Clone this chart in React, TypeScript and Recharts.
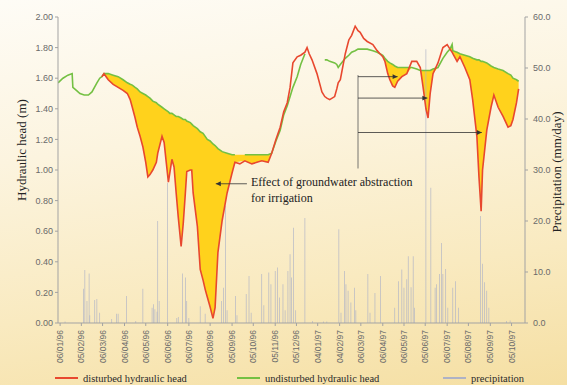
import {
  Area,
  Bar,
  ComposedChart,
  Line,
  ReferenceDot,
  ReferenceLine,
  XAxis,
  YAxis,
} from "recharts";

// day 0 = 1 Jan 1996
const HEAD_DAYS = [
  2, 9, 16, 22, 23, 28, 33, 39, 45, 50, 57, 61, 64, 67, 70, 73, 80, 87, 94, 100,
  104, 107, 111, 114, 118, 122, 126, 129, 132, 136, 141, 143, 149, 152, 155, 158,
  160, 163, 166, 169, 172, 176, 179, 182, 184, 189, 191, 193, 199, 203, 207, 210,
  213, 217, 221, 224, 228, 234, 241, 248, 252, 259, 266, 276, 283, 290, 299, 304,
  310, 316, 321, 326, 330, 334, 340, 345, 351, 354, 357, 361, 368, 375, 379, 382,
  386, 393, 396, 398, 401, 408, 413, 417, 422, 426, 429, 434, 439, 447, 453, 457,
  461, 464, 468, 471, 475, 478, 482, 488, 495, 502, 509, 514, 518, 522, 525, 528,
  532, 539, 546, 552, 556, 559, 560, 566, 570, 577, 584, 588, 594, 597, 600, 602,
  608, 614, 618, 624, 631, 638, 642, 645, 650, 653,
];

const UNDISTURBED: (number | null)[] = [
  1.57, 1.6, 1.62, 1.63, 1.54, 1.52, 1.5, 1.49, 1.49, 1.51, 1.57, 1.6, 1.61, 1.63,
  1.63, 1.63, 1.62, 1.61, 1.59, 1.57, 1.56, 1.555, 1.54, 1.53, 1.51, 1.5, 1.49,
  1.48, 1.47, 1.45, 1.44, 1.43, 1.41, 1.4, 1.39, 1.38, 1.37, 1.37, 1.36, 1.35,
  1.35, 1.34, 1.33, 1.33, 1.32, 1.31, 1.3, 1.29, 1.27, 1.25, 1.24, 1.22, 1.2,
  1.19, 1.17, 1.16, 1.14, 1.12, 1.11, 1.1, 1.1, null, 1.1, 1.1, 1.1, 1.1, 1.1,
  1.11, 1.19, 1.26, 1.36, 1.42, 1.48, 1.54, 1.61, 1.69, 1.76, null, null, null,
  null, null, 1.72, 1.72, 1.71, 1.7, 1.69, 1.67, 1.69, 1.73, 1.75, 1.77, 1.78,
  1.79, 1.79, 1.79, 1.79, 1.78, 1.77, 1.76, 1.75, 1.73, 1.71, 1.7, 1.69, 1.68,
  1.67, 1.67, 1.67, 1.67, 1.66, 1.65, 1.65, 1.65, 1.65, 1.65, 1.66, 1.67, 1.73,
  1.77, 1.79, 1.82, 1.78, 1.77, 1.76, 1.75, 1.74, 1.73, 1.72, 1.72, 1.71, 1.71,
  1.7, 1.68, 1.67, 1.66, 1.65, 1.63, 1.62, 1.6, 1.59, 1.58,
];

const DISTURBED: (number | null)[] = [
  null, null, null, null, null, null, null, null, null, null, null, null, 1.61,
  1.63, 1.61, 1.59, 1.56, 1.54, 1.52, 1.5, 1.46, 1.41, 1.34, 1.28, 1.22, 1.15,
  1.05, 0.955, 0.97, 1.0, 1.05, 1.11, 1.22, 1.18, 1.05, 0.92, 0.98, 1.07, 1.02,
  0.85, 0.69, 0.5, 0.65, 0.85, 0.99, 1.0, 1.0, 0.85, 0.63, 0.35, 0.28, 0.22, 0.17,
  0.105, 0.03, 0.1, 0.46, 0.67, 0.85, 0.98, 1.05, 1.04, 1.06, 1.04, 1.05, 1.06,
  1.05, 1.11, 1.2, 1.28, 1.38, 1.44, 1.54, 1.7, 1.74, 1.75, 1.77, 1.8, 1.76, 1.72,
  1.63, 1.51, 1.48, 1.47, 1.46, 1.48, 1.53, 1.57, 1.59, 1.76, 1.85, 1.88, 1.94,
  1.91, 1.9, 1.86, 1.84, 1.82, 1.78, 1.76, 1.74, 1.71, 1.63, 1.59, 1.55, 1.54,
  1.58, 1.61, 1.63, 1.71, 1.71, 1.67, 1.54, 1.4, 1.34, 1.5, 1.63, 1.7, 1.8, 1.82,
  1.79, 1.77, 1.76, 1.71, 1.74, 1.67, 1.59, 1.46, 1.22, 0.95, 0.73, 1.0, 1.26,
  1.41, 1.49, 1.41, 1.35, 1.28, 1.29, 1.33, 1.44, 1.53,
];

const IRRIGATION_SEASONS: [number, number][] = [
  [64, 304],
  [461, 653],
];

const RAIN_DAYS = [
  12, 38, 40, 43, 46, 47, 54, 57, 61, 78, 85, 87, 99, 112, 122, 135, 137, 139, 142,
  143, 145, 157, 170, 172, 178, 182, 184, 187, 203, 210, 233, 236, 239, 241, 253,
  255, 268, 272, 275, 290, 293, 300, 303, 309, 312, 315, 320, 323, 327, 330, 332,
  335, 338, 351, 362, 377, 382, 399, 402, 407, 409, 412, 416, 421, 423, 440, 443,
  450, 458, 478, 483, 488, 491, 495, 497, 501, 504, 506, 522, 529, 535, 537, 541,
  544, 546, 550, 553, 560, 564, 568, 599, 602, 605, 608, 611, 636, 641,
];

const RAIN_MM = [
  0.3, 6.7, 10.4, 4.3, 9.7, 1.5, 4.5, 4.7, 2.0, 0.8, 1.8, 1.8, 5.3, 0.4, 6.7, 3.0,
  3.7, 2.7, 2.2, 20.0, 4.3, 27.5, 1.0, 1.2, 9.7, 8.9, 4.3, 1.0, 3.3, 1.8, 4.3, 6.9,
  23.0, 2.5, 5.3, 1.5, 5.7, 9.2, 2.0, 9.6, 3.5, 9.9, 7.6, 10.2, 10.9, 5.0, 7.6,
  2.5, 10.2, 13.5, 8.9, 18.7, 2.5, 20.6, 0.4, 0.3, 0.3, 18.4, 2.0, 10.2, 7.6, 6.3,
  4.0, 6.9, 2.5, 9.6, 2.0, 5.9, 9.2, 3.0, 8.2, 10.5, 6.9, 8.6, 13.1, 7.0, 13.1, 3.0,
  53.7, 26.5, 6.9, 7.6, 9.6, 15.7, 9.6, 10.6, 3.0, 6.9, 8.2, 3.0, 21.0, 11.6, 8.0,
  6.3, 3.0, 0.4, 0.5,
];

const TICK_DAYS = [
  5, 35, 65, 96, 126, 157, 187, 217, 248, 278, 309, 339, 369, 400, 430, 461, 491,
  521, 552, 582, 613, 643,
];

const TICK_LABELS = [
  "06/01/96", "05/02/96", "06/03/96", "06/04/96", "06/05/96", "06/06/96",
  "06/07/96", "05/08/96", "05/09/96", "05/10/96", "05/11/96", "05/12/96",
  "04/01/97", "04/02/97", "06/03/97", "06/04/97", "06/05/97", "05/06/97",
  "06/07/97", "05/08/97", "05/09/97", "05/10/97",
];

const HEAD_TICKS = [0, 0.2, 0.4, 0.6, 0.8, 1.0, 1.2, 1.4, 1.6, 1.8, 2.0];
const RAIN_TICKS = [0, 10, 20, 30, 40, 50, 60];

// annotation anchors (day, head)
const SPLIT_DAY = 426;
const SPLIT_TOP = 1.62;
const SPLIT_BOTTOM = 1.01;
const SPLIT_LEVELS = [1.61, 1.47, 1.245];
const SPLIT_TIPS = [482, 524, 601];
const LEFT_ARROW = { from: 269, to: 225, head: 0.91 };

const RED = "#e8482f";
const GREEN = "#74c043";
const YELLOW = "#ffd21c";
const GREY_BAR = "#aeb2c6";
const AXIS = "#a3a3a3";
const TICK_TEXT = "#6a6a6a";

const rainData = RAIN_DAYS.map((day, i) => ({ day, rain: RAIN_MM[i] }));
const undisturbedData = HEAD_DAYS.map((day, i) => ({ day, head: UNDISTURBED[i] }));
const disturbedData = HEAD_DAYS.map((day, i) => ({ day, head: DISTURBED[i] })).filter(
  (d) => d.head !== null
);

function seasonFill([start, end]: [number, number]) {
  return HEAD_DAYS.map((day, i) => ({ day, g: UNDISTURBED[i], r: DISTURBED[i] }))
    .filter((d) => d.g !== null && d.r !== null && d.day >= start && d.day <= end)
    .map((d) => ({
      day: d.day,
      range: [Math.min(d.r as number, d.g as number), d.g as number],
    }));
}

function DateTick(props: any) {
  const { x, y, payload } = props;
  const idx = TICK_DAYS.indexOf(payload.value);
  return (
    <text
      transform={`translate(${x + 3},${y + 2}) rotate(-90)`}
      textAnchor="end"
      fontSize={8.5}
      fontFamily="Liberation Sans, Arial, sans-serif"
      fill={TICK_TEXT}
    >
      {TICK_LABELS[idx] ?? ""}
    </text>
  );
}

const arrowRight = (p: any) => (
  <path d={`M${p.cx},${p.cy} l-5,-2.4 v4.8 z`} fill="#333" />
);
const arrowLeft = (p: any) => (
  <path d={`M${p.cx},${p.cy} l5,-2.4 v4.8 z`} fill="#333" />
);

const legendItems = [
  { label: "disturbed hydraulic head", color: RED, left: 55 },
  { label: "undisturbed hydraulic head", color: GREEN, left: 237 },
  { label: "precipitation", color: GREY_BAR, left: 443 },
];

export default function App() {
  const tickFont = { fontSize: 9, fill: TICK_TEXT, fontFamily: "Liberation Sans, Arial, sans-serif" };

  return (
    <div
      style={{
        position: "absolute",
        left: 0,
        top: 0,
        width: 567,
        height: 385,
        overflow: "hidden",
        background:
          "linear-gradient(172deg, #fefcf6 0%, #fcf4df 35%, #f9eac0 70%, #f5dfa3 100%)",
        fontFamily: "Liberation Serif, Times New Roman, serif",
      }}
    >
      <ComposedChart
        width={567}
        height={385}
        data={rainData}
        margin={{ top: 17, right: 0, bottom: 0, left: 0 }}
      >
        <XAxis
          dataKey="day"
          type="number"
          domain={[2, 662]}
          ticks={TICK_DAYS}
          interval={0}
          height={62}
          tick={<DateTick />}
          tickSize={3}
          tickMargin={2}
          stroke={AXIS}
          allowDataOverflow
        />
        <YAxis
          yAxisId="head"
          domain={[0, 2]}
          ticks={HEAD_TICKS}
          width={58}
          tickSize={3}
          tickMargin={2}
          stroke={AXIS}
          tick={tickFont}
          tickFormatter={(v) => Number(v).toFixed(2)}
        />
        <YAxis
          yAxisId="rain"
          orientation="right"
          domain={[0, 60]}
          ticks={RAIN_TICKS}
          width={42}
          tickSize={3}
          tickMargin={5}
          stroke={AXIS}
          tick={tickFont}
          tickFormatter={(v) => Number(v).toFixed(1)}
        />

        {IRRIGATION_SEASONS.map((season, i) => (
          <Area
            key={i}
            yAxisId="head"
            data={seasonFill(season)}
            dataKey="range"
            type="linear"
            stroke="none"
            fill={YELLOW}
            fillOpacity={1}
            isAnimationActive={false}
          />
        ))}

        <Bar
          yAxisId="rain"
          dataKey="rain"
          fill={GREY_BAR}
          barSize={1.5}
          isAnimationActive={false}
        />

        <Line
          yAxisId="head"
          data={undisturbedData}
          dataKey="head"
          type="linear"
          stroke={GREEN}
          strokeWidth={1.6}
          dot={false}
          connectNulls={false}
          isAnimationActive={false}
        />
        <Line
          yAxisId="head"
          data={disturbedData}
          dataKey="head"
          type="linear"
          stroke={RED}
          strokeWidth={1.6}
          dot={false}
          isAnimationActive={false}
        />

        <ReferenceLine
          yAxisId="head"
          segment={[
            { x: SPLIT_DAY, y: SPLIT_TOP },
            { x: SPLIT_DAY, y: SPLIT_BOTTOM },
          ]}
          stroke="#555"
          strokeWidth={0.8}
        />
        {SPLIT_LEVELS.map((level, i) => (
          <ReferenceLine
            key={`h${i}`}
            yAxisId="head"
            segment={[
              { x: SPLIT_DAY, y: level },
              { x: SPLIT_TIPS[i], y: level },
            ]}
            stroke="#333"
            strokeWidth={0.8}
          />
        ))}
        {SPLIT_LEVELS.map((level, i) => (
          <ReferenceDot
            key={`a${i}`}
            yAxisId="head"
            x={SPLIT_TIPS[i]}
            y={level}
            r={3}
            shape={arrowRight}
          />
        ))}
        <ReferenceLine
          yAxisId="head"
          segment={[
            { x: LEFT_ARROW.from, y: LEFT_ARROW.head },
            { x: LEFT_ARROW.to, y: LEFT_ARROW.head },
          ]}
          stroke="#333"
          strokeWidth={0.8}
        />
        <ReferenceDot
          yAxisId="head"
          x={LEFT_ARROW.to}
          y={LEFT_ARROW.head}
          r={3}
          shape={arrowLeft}
        />
      </ComposedChart>

      <div
        style={{
          position: "absolute",
          left: 251,
          top: 174,
          fontSize: 12,
          lineHeight: "16px",
          color: "#222",
          whiteSpace: "nowrap",
        }}
      >
        Effect of groundwater abstraction
        <br />
        for irrigation
      </div>

      <div
        style={{
          position: "absolute",
          left: -78,
          top: 142,
          width: 200,
          height: 16,
          lineHeight: "16px",
          textAlign: "center",
          fontSize: 13,
          color: "#222",
          transform: "rotate(-90deg)",
        }}
      >
        Hydraulic head (m)
      </div>
      <div
        style={{
          position: "absolute",
          left: 457,
          top: 164,
          width: 200,
          height: 16,
          lineHeight: "16px",
          textAlign: "center",
          fontSize: 13,
          color: "#222",
          transform: "rotate(-90deg)",
        }}
      >
        Precipitation (mm/day)
      </div>

      {legendItems.map((item) => (
        <div
          key={item.label}
          style={{
            position: "absolute",
            left: item.left,
            top: 370,
            height: 16,
            display: "flex",
            alignItems: "center",
            fontSize: 10.5,
            color: "#2a2a2a",
            whiteSpace: "nowrap",
          }}
        >
          <span
            style={{
              display: "inline-block",
              width: 23,
              height: 2,
              background: item.color,
              marginRight: 5,
            }}
          />
          {item.label}
        </div>
      ))}
    </div>
  );
}
